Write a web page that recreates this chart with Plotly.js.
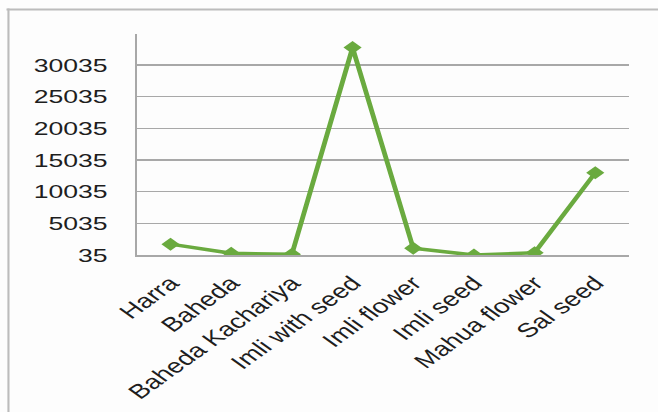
<!DOCTYPE html>
<html><head><meta charset="utf-8">
<script src="https://cdn.plot.ly/plotly-3.0.1.min.js"></script>
<style>
html,body{margin:0;padding:0;overflow:hidden;background:#fdfdfd;}
#wrap{width:658px;height:412px;overflow:hidden;position:relative;}
#chart{width:470px;height:412px;transform:scaleX(1.4);transform-origin:0 0;}
</style></head><body>
<div id="wrap"><div id="chart"></div></div>
<script>
const categories = ["Harra", "Baheda", "Baheda Kachariya", "Imli with seed", "Imli flower", "Imli seed", "Mahua flower", "Sal seed"];
const values = [1750, 300, 150, 32800, 1100, 20, 400, 13030];
const yTickValues = [35, 5035, 10035, 15035, 20035, 25035, 30035];
const yTickLabels = ["35", "5035", "10035", "15035", "20035", "25035", "30035"];

const green = "#6aaa3f";
const grid = "#a8a8a8";

const trace = {
  type: "scatter",
  mode: "lines+markers",
  x: categories,
  y: values,
  line: {color: green, width: 3.5},
  marker: {symbol: "diamond", size: 10, color: green},
  hoverinfo: "skip"
};

const layout = {
  width: 470, height: 412,
  margin: {l: 98, r: 21, t: 34, b: 157},
  paper_bgcolor: "#fdfdfd",
  plot_bgcolor: "#fdfdfd",
  showlegend: false,
  font: {family: "Liberation Sans, Arial, sans-serif", color: "#1e1e1e"},
  xaxis: {
    type: "category",
    tickangle: -45,
    tickfont: {size: 20, color: "#1e1e1e"},
    showgrid: false,
    showline: true, linecolor: grid, linewidth: 1.5,
    ticks: "",
    ticklabelstandoff: 7,
    fixedrange: true
  },
  yaxis: {
    range: [35, 34935],
    tickmode: "array",
    tickvals: yTickValues,
    ticktext: yTickLabels,
    tickfont: {size: 19, color: "#1e1e1e"},
    showgrid: true, gridcolor: grid, gridwidth: 1.5,
    zeroline: false,
    showline: true, linecolor: grid, linewidth: 1.3,
    ticks: "",
    ticklabelstandoff: 16,
    fixedrange: true
  },
  shapes: [
    {type: "line", xref: "paper", yref: "paper", x0: -0.266, x1: 1.2, y0: 1.111, y1: 1.111,
     line: {color: "#bcbcbc", width: 2}},
    {type: "line", xref: "paper", yref: "paper", x0: -0.262, x1: -0.262, y0: 1.115, y1: -0.8,
     line: {color: "#bcbcbc", width: 1.5}}
  ]
};

Plotly.newPlot("chart", [trace], layout, {displayModeBar: false, staticPlot: true});
</script>
</body></html>
